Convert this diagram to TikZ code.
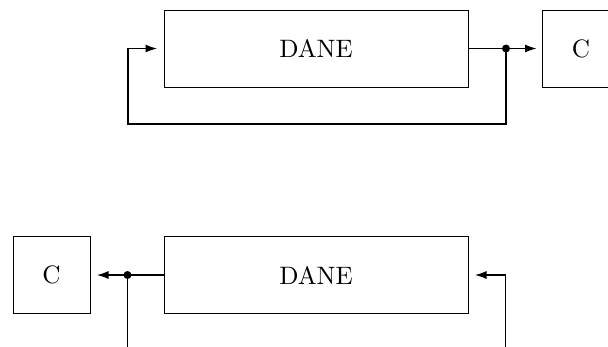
\documentclass[tikz,border=0pt]{standalone}
\usetikzlibrary{arrows.meta}
% one drawing unit
\def\pxu{0.4348pt}
\begin{document}
\begin{tikzpicture}[x=\pxu, y=-\pxu,
  font=\fontsize{10.95}{13}\selectfont,
  blk/.style={draw, line width=0.35pt, minimum width=#1*\pxu, minimum height=77*\pxu,
              inner sep=0pt, outer sep=0pt},
  dot/.style={circle, fill, inner sep=0pt, minimum size=8*\pxu},
  wire/.style={line width=0.5pt},
  arr/.style={wire, -{Latex[length=5pt,width=3.5pt]}, shorten >=7*\pxu}]
\clip (0,0) rectangle (608,346);

% upper loop: output fed back to the input
\node[blk=304] (dane1) at (316,48.5) {DANE};
\node[blk=77]  (c1)    at (581,48.5) {C};
\node[dot]     (j1)    at (506,48.5) {};
\coordinate (fb1) at (128,124);
\draw[wire] (dane1.east) -- (j1.center);
\draw[arr, shorten >=6*\pxu] (j1.center) -- (c1.west);
\draw[arr] (j1.center) -- (j1.center |- fb1) -- (fb1) |- (dane1.west);

% lower block: open ends leaving the picture
\node[blk=304] (dane2) at (316,275) {DANE};
\node[blk=77]  (c2)    at (51.5,275) {C};
\node[dot]     (j2)    at (127.5,275) {};
\coordinate (out2) at (127.5,352);
\coordinate (src2) at (505.5,352);
\draw[wire] (dane2.west) -- (j2.center);
\draw[arr] (j2.center) -- (c2.east);
\draw[wire] (j2.center) -- (out2);
\draw[arr] (src2) |- (dane2.east);
\end{tikzpicture}
\end{document}
